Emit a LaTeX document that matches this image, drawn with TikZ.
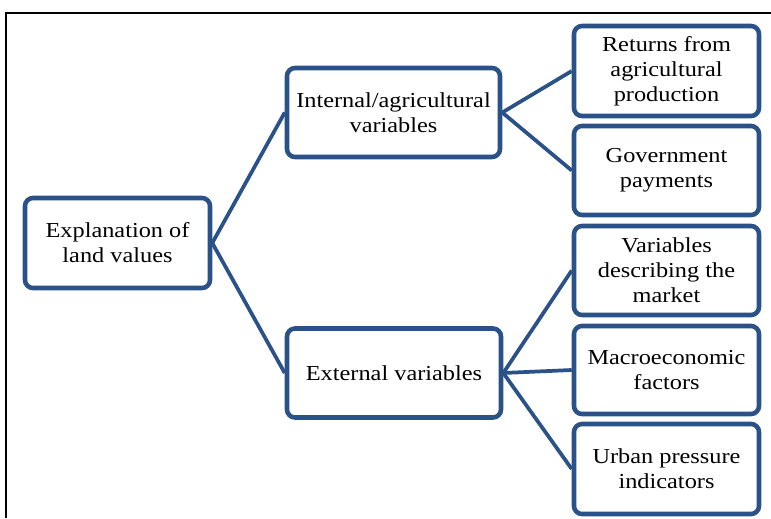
\documentclass[tikz,border=0pt]{standalone}
\usepackage{fontspec}
\setmainfont{Liberation Serif}[FakeStretch=1.14]
\definecolor{boxblue}{RGB}{42,82,136}
\begin{document}
\begin{tikzpicture}[x=0.75pt,y=-0.75pt,
  box/.style={draw=boxblue, line width=3.4pt, rounded corners=6pt, fill=white,
    align=center, font=\fontsize{16}{18.8}\selectfont, inner sep=0pt},
  link/.style={draw=boxblue, line width=2.8pt}]
\useasboundingbox (0,0) rectangle (771,518);
\draw[line width=1.5pt] (6,518) -- (6,13) -- (771,13);
\node[box, minimum width=185*0.75pt, minimum height=90*0.75pt] (expl) at (117.5,243) {Explanation of\\land values};
\node[box, minimum width=213*0.75pt, minimum height=89*0.75pt] (int) at (393.5,112.5) {Internal/agricultural\\variables};
\node[box, minimum width=214*0.75pt, minimum height=89*0.75pt] (ext) at (394,373) {External variables};
\node[box, minimum width=185*0.75pt, minimum height=90*0.75pt] (ret) at (666.5,71) {Returns from\\agricultural\\production};
\node[box, minimum width=185*0.75pt, minimum height=89*0.75pt] (gov) at (666.5,170.5) {Government\\payments};
\node[box, minimum width=185*0.75pt, minimum height=89*0.75pt] (mkt) at (666.5,270.5) {Variables\\describing the\\market};
\node[box, minimum width=185*0.75pt, minimum height=88*0.75pt] (mac) at (666.5,370) {Macroeconomic\\factors};
\node[box, minimum width=185*0.75pt, minimum height=90*0.75pt] (urb) at (666.5,469) {Urban pressure\\indicators};
\draw[link] (expl.east) -- (int.west);
\draw[link] (expl.east) -- (ext.west);
\draw[link] (int.east) -- (ret.west);
\draw[link] (int.east) -- (gov.west);
\draw[link] (ext.east) -- (mkt.west);
\draw[link] (ext.east) -- (mac.west);
\draw[link] (ext.east) -- (urb.west);
\end{tikzpicture}
\end{document}
